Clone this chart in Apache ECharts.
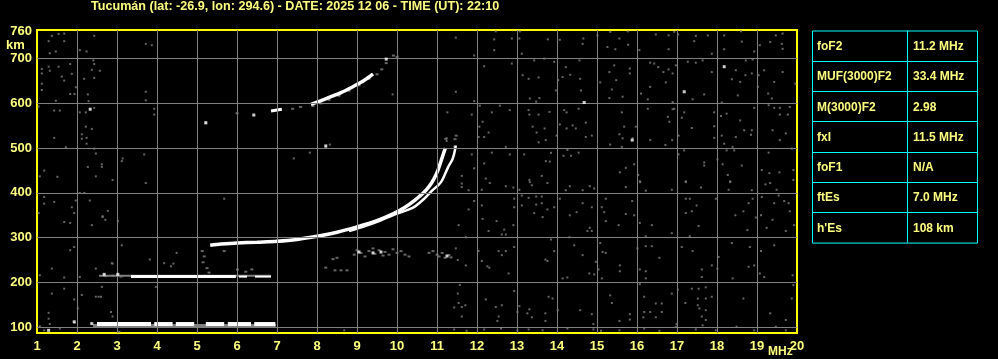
<!DOCTYPE html>
<html><head><meta charset="utf-8">
<script src="https://cdn.jsdelivr.net/npm/echarts@6/dist/echarts.min.js"></script>
<style>html,body{margin:0;padding:0;background:#000;}#c{width:998px;height:359px;}</style>
</head><body><div id="c"></div>
<script>
// ---------- DATA ----------
const titleText = 'Tucumán (lat: -26.9, lon: 294.6) - DATE: 2025 12 06 - TIME (UT): 22:10';
const freqTicks = [1,2,3,4,5,6,7,8,9,10,11,12,13,14,15,16,17,18,19,20];
const heightTicks = [100,200,300,400,500,600,700,760];
const heightGrid = [100,200,300,400,500,600,700];
const freqGrid = [2,3,4,5,6,7,8,9,10,11,12,13,14,15,16,17,18,19];
const tableLabels = ['foF2','MUF(3000)F2','M(3000)F2','fxI','foF1','ftEs',"h'Es"];
const tableValues = ['11.2 MHz','33.4 MHz','2.98','11.5 MHz','N/A','7.0 MHz','108 km'];

// Sporadic E (first hop) white segments [fStart, fEnd] at esLowHeight
const esLowHeight = 107;
const esLowSegments = [[2.5,3.85],[3.93,4.39],[4.47,4.93],[5.22,5.68],[5.77,6.35],[6.43,6.96]];
const esLowGray = [[2.4,104],[6.97,104]];
// Sporadic E (second hop)
const esHighHeight = 213;
const esHighSegments = [[3.35,5.97],[6.05,6.25],[6.45,6.85]];
const esHighGray = [[2.55,215],[6.85,215]];
// F trace, ordinary and extraordinary
const fOTrace = [[5.33,283],[5.6,286],[6.0,288],[6.5,290],[7.0,292],[7.5,296],[8.0,303],[8.5,312],[9.0,324],[9.5,338],[9.9,353],[10.2,368],[10.45,384],[10.65,399],[10.8,414],[10.92,431],[11.02,450],[11.1,471],[11.17,490],[11.21,500]];
const fXTrace = [[8.8,315],[9.2,326],[9.6,339],[10.0,354],[10.4,367],[10.68,387],[10.89,406],[11.1,424],[11.27,456],[11.39,476],[11.44,492],[11.47,506]];
// F second hop
const f2HopA = [[6.85,583],[7.12,587]];
const f2HopB = [[7.85,598],[8.1,606],[8.35,615],[8.6,624],[8.85,635],[9.1,647],[9.3,659],[9.4,666]];
// weak echoes (gray) near traces
const echoGray = [[5.13,270],[5.18,258],[5.15,245],[5.25,232],[5.3,222],[5.2,215],[6.01,229],[6.22,224],[6.37,229],[5.68,270],
 [8.93,262],[9.0,272],[9.1,266],[9.2,258],[9.3,270],[9.4,276],[9.45,264],[9.55,272],[9.65,260],[9.7,268],[9.8,262],[9.9,274],[10.0,266],[10.1,270],[10.2,262],[10.3,258],[8.4,252],[8.5,255],
 [8.22,233],[8.45,227],[8.6,227],[8.75,227],
 [10.8,266],[10.9,270],[11.0,262],[11.05,258],[11.13,266],[11.2,255],[11.3,261],[11.35,256],
 [7.39,588],[7.59,592],[7.9,594],[8.1,600],[8.3,608],[8.55,617],[8.8,628],[9.05,640],[9.3,655],[9.5,665],[9.62,676],[9.73,690],[9.91,707],[10.0,704],[5.22,555],[6.0,578],
 [11.22,521],[11.45,520],[11.48,528],[2.7,214],[2.9,215],[3.1,213]];
const echoWhite = [[2.68,218],[3.02,218],[2.33,587],[9.73,699],[18.18,682],[17.18,626],[14.68,602],[15.88,518],[9.05,268],[9.4,266],[9.6,268],[11.25,259],[2.37,108],[1.29,93],[5.22,557],[6.42,574],[1.93,112],[8.22,505]];
// background noise speckles
const noiseGray = [
[11.47,747],[12.47,761],[12.43,743],[12.87,745],[13.07,761],[13.06,745],[13.77,743],[14.07,742],[14.66,745],[14.64,733],[15.01,752],[15.33,760],[15.56,745],[15.26,726],[15.46,721],[15.78,731],[15.77,761],[16.06,719],[16.47,754],[16.79,752],[16.93,760],[17.03,754],[17.47,751],[17.43,739],[17.77,752],[18.18,752],[18.62,738],[18.6,761],[19.07,730],[19.33,737],[19.47,752],[19.64,756],[19.62,733],[19.64,722],[18.93,716],[17.87,711],[18.18,721],[16.79,721],[11.93,707],[13.12,711],[12.43,719],
[12.87,689],[12.18,683],[13.43,696],[13.68,700],[13.93,693],[14.22,681],[14.56,696],[13.14,663],[13.29,655],[13.54,658],[14.03,652],[14.14,659],[14.33,664],[14.58,655],[15.08,647],[15.31,670],[15.43,685],[15.48,652],[15.82,678],[15.82,667],[16.33,691],[16.43,689],[16.53,681],[16.66,670],[16.79,676],[16.89,667],[16.97,685],[16.72,647],[16.33,637],[17.27,693],[17.47,691],[17.64,696],[17.87,670],[17.68,620],[17.39,609],[18.37,654],[18.47,674],[18.58,648],[18.71,663],[18.87,667],[19.04,663],[19.02,637],[19.18,674],[19.43,648],[19.28,622],[19.37,611],[19.64,670],[19.96,644],[18.12,602],[18.52,618],[18.72,696],[18.89,698],[11.47,626],[11.93,605],[13.56,612],[13.48,604],[13.32,611],[13.97,629],[14.6,629],[15.37,631],[15.31,612],[15.64,615],[16.1,622],[16.27,609],[16.89,603],
[11.26,580],[11.87,575],[12.07,595],[12.57,595],[12.82,585],[12.37,580],[12.14,559],[12.06,548],[12.29,535],[12.04,525],[12.18,525],[12.72,503],[13.31,575],[13.54,575],[13.29,585],[13.81,581],[13.39,548],[13.69,544],[13.49,535],[13.72,518],[13.54,513],[14.18,585],[14.24,580],[14.54,588],[14.07,553],[14.24,544],[14.39,551],[14.47,544],[14.72,557],[14.72,525],[14.87,528],[13.99,528],[15.62,580],[15.68,548],[15.56,531],[15.64,522],[15.89,522],[15.33,508],[15.62,503],[15.97,548],[16.27,588],[16.89,587],[16.93,588],[17.18,580],[17.12,568],[16.77,570],[16.81,559],[16.88,518],[16.33,518],[16.71,507],[17.04,528],[17.37,545],[17.93,580],[17.93,549],[17.93,523],[18.1,572],[18.12,528],[18.24,577],[18.47,525],[18.58,562],[18.68,540],[18.87,540],[18.93,590],[19.29,596],[19.43,590],[19.57,590],[19.82,592],[19.39,540],[19.57,575],[19.77,575],[19.72,533],[19.57,518],[18.85,530],[18.39,503],[18.18,510],
[11.24,522],[11.24,516],[11.43,503],[11.43,486],[11.87,486],[12.18,466],[11.93,455],[11.62,438],[12.22,432],[12.37,490],[12.82,486],[13.18,486],[13.31,429],[13.62,438],[13.72,471],[13.85,490],[13.82,470],[14.16,483],[14.26,496],[14.35,483],[14.54,490],[15.57,446],[15.72,456],[15.93,464],[16.03,440],[16.07,426],[17.22,426],[17.04,486],[17.18,495],[17.68,468],[17.68,461],[18.01,475],[18.14,464],[18.27,440],[18.33,426],[18.24,495],[18.43,495],[18.62,461],[19.12,451],[19.31,444],[19.56,446],[19.91,451],[19.87,499],[19.29,490],[19.91,429],
[11.62,421],[11.62,413],[11.79,406],[12.12,407],[12.32,422],[12.72,415],[12.91,412],[13.06,407],[13.37,417],[13.32,424],[13.76,422],[14.22,406],[14.32,415],[14.64,406],[14.82,415],[14.93,410],[15.72,413],[16.08,424],[16.22,405],[16.87,407],[17.22,424],[17.6,412],[18.33,424],[18.29,407],[18.87,406],[19.21,419],[19.33,422],[19.49,407],
[11.93,382],[11.79,363],[11.54,328],[11.72,301],[12.12,372],[12.14,342],[12.29,315],[12.49,337],[12.62,307],[12.68,318],[12.72,307],[12.93,387],[12.93,368],[12.91,328],[13.12,394],[13.12,372],[13.29,389],[13.48,392],[13.48,374],[13.43,355],[13.62,392],[13.62,377],[13.76,363],[13.64,346],[13.93,368],[14.07,387],[14.32,350],[14.49,357],[14.64,377],[14.87,368],[14.82,322],[14.87,315],[14.76,315],[14.31,301],[15.12,368],[15.18,357],[15.22,387],[15.22,337],[15.54,328],[15.72,353],[15.88,382],[15.93,350],[16.07,333],[16.37,328],[16.22,303],[16.87,310],[17.22,387],[17.32,387],[17.22,355],[17.37,359],[17.49,372],[17.54,326],[17.32,303],[17.97,387],[18.46,350],[18.66,359],[18.79,377],[18.89,387],[18.76,317],[18.97,345],[19.1,350],[19.12,391],[19.24,322],[19.39,340],[19.43,377],[19.54,394],[19.68,382],[19.79,377],[19.82,359],[19.72,315],[19.93,328],
[11.47,276],[11.52,250],[11.72,238],[12.04,270],[12.12,248],[12.26,236],[12.31,233],[12.54,270],[12.62,261],[12.72,270],[12.79,220],[12.93,279],[13.71,251],[13.76,248],[13.93,270],[13.85,296],[14.14,209],[14.26,211],[14.43,283],[14.64,261],[14.81,220],[14.93,218],[14.97,246],[15.04,229],[15.12,209],[15.08,288],[15.14,268],[15.22,266],[15.57,238],[15.57,225],[16.01,276],[16.07,229],[16.22,225],[16.22,209],[16.22,281],[16.37,281],[16.56,255],[17.12,279],[17.39,270],[17.62,229],[17.62,212],[17.87,238],[18.01,231],[18.04,257],[18.37,288],[18.39,209],[18.82,279],[18.79,235],[18.93,238],[19.1,270],[19.07,220],[19.18,212],[19.43,283],[19.89,216],
[11.57,194],[11.52,175],[11.54,154],[11.43,144],[11.62,145],[11.71,149],[11.62,124],[12.22,162],[12.47,145],[12.62,149],[12.54,124],[12.51,114],[12.93,181],[13.06,147],[13.01,134],[13.26,131],[13.37,122],[13.31,140],[13.71,131],[13.79,168],[13.89,164],[13.71,114],[14.02,138],[14.58,138],[14.87,129],[14.91,107],[15.33,171],[15.37,154],[15.56,114],[15.82,129],[15.82,117],[16.07,196],[16.18,168],[16.18,134],[16.16,122],[16.33,134],[16.47,153],[16.62,153],[16.62,134],[16.47,122],[17.02,184],[16.87,175],[16.99,107],[17.21,154],[17.37,186],[17.54,186],[17.72,189],[17.52,164],[17.72,164],[17.52,149],[17.56,142],[17.72,138],[17.62,124],[17.72,116],[17.64,104],[17.87,168],[18.66,164],[19.33,131],[19.72,116],[19.87,164],[19.91,194],
[11.43,95],[11.74,92],[12.18,95],[12.6,97],[13.01,93],[13.29,95],[13.64,93],[14.26,97],[14.91,95],[15.1,92],[15.56,93],[16.18,97],[16.56,92],[16.97,101],[17.47,95],[17.97,93],[18.49,101],[18.93,93],[19.47,101],[19.72,93],
[1.37,751],[1.54,755],[1.68,756],[1.29,739],[1.68,739],[2.43,751],[1.32,712],[1.47,716],[2.07,719],[2.24,716],[1.12,677],[1.12,667],[1.29,682],[1.32,673],[1.54,682],[1.62,660],[1.68,651],[1.83,688],[1.87,666],[2.18,655],[2.41,696],[2.43,688],[2.37,675],[2.57,673],[2.43,657],[1.12,644],[1.12,630],[1.97,636],[1.83,621],[1.94,621],[2.27,620],[2.29,605],[1.04,593],[1.47,606],[1.57,584],[1.43,584],[2.07,580],[2.22,580],[2.43,590],[2.22,548],[2.37,543],[1.43,523],[2.12,531],[2.12,521],[2.24,523],[2.24,510],[1.72,502],[2.43,499],[2.47,488],[2.62,464],[2.62,458],[1.18,450],[1.51,436],[1.07,437],[2.27,458],[2.47,437],[1.18,391],[1.18,376],[1.43,380],[1.87,368],[1.93,355],[1.97,383],[2.32,383],[2.18,400],[2.07,400],[1.04,355],[1.68,335],[1.83,333],[2.37,328],[2.77,360],[2.64,346],[1.83,272],[1.93,279],[1.37,231],[1.07,216],[2.07,212],[1.68,211],[2.47,231],[2.89,242],[1.37,175],[1.68,186],[1.93,162],[2.12,172],[2.02,142],[2.47,168],[2.54,168],[1.29,132],[1.29,119],[1.32,107],[1.07,102],[1.18,93],[1.57,97],[1.94,110],
[3.72,733],[3.87,730],[3.72,626],[3.72,607],[3.93,588],[3.93,575],[3.14,477],[3.68,486],[3.12,471],[7.42,477],[7.82,490],[8.22,503],[8.32,508],[9.89,620],[2.89,429],
[2.64,348],[2.71,340],[3.02,337],[3.12,283],[2.87,243],[2.62,190],[2.6,168],[2.85,134],[2.89,124],[3.72,422],[3.82,251],[4.49,266],[4.18,243],[4.35,236],[4.41,242],[3.97,190],[5.68,387],[8.68,93],[3.06,90]
];

// ---------- CHART ----------
const YEL = '#ffff80';
const FONT = 'Liberation Sans';
const chart = echarts.init(document.getElementById('c'), null, {renderer:'canvas'});

function lineSeries(data, color, width, z, smooth){
  return {type:'line', data:data, showSymbol:false, symbol:'none', silent:true, z:z,
    smooth: smooth || 0, lineStyle:{color:color, width:width}, animation:false};
}
const series = [];
// grid lines
series.push({type:'line', data:[], silent:true, z:1, animation:false,
  markLine:{silent:true, symbol:['none','none'], animation:false, label:{show:false},
    lineStyle:{color:'#808080', width:1, type:'solid'},
    emphasis:{disabled:true},
    data: heightGrid.map(v=>({yAxis:v})).concat(freqGrid.map(v=>({xAxis:v})))}});
// noise
series.push({type:'scatter', data:noiseGray, symbol:'rect', symbolSize:[2,2], silent:true, z:2,
  itemStyle:{color:'#808080'}, animation:false});
series.push({type:'scatter', data:echoGray, symbol:'rect', symbolSize:[3,2], silent:true, z:2,
  itemStyle:{color:'#808080'}, animation:false});
// gray bases of Es
series.push(lineSeries(esLowGray, '#808080', 3, 3));
series.push(lineSeries(esHighGray, '#808080', 2, 3));
// Es white
esLowSegments.forEach(s => series.push(lineSeries([[s[0],esLowHeight],[s[1],esLowHeight]], '#ffffff', 4, 4)));
esHighSegments.forEach((s,i) => series.push(lineSeries([[s[0],esHighHeight],[s[1],esHighHeight]], '#ffffff', i===0?3:2, 4)));
// F traces
series.push(lineSeries(fXTrace, '#ffffff', 2.5, 4, 0.3));
series.push(lineSeries(fOTrace, '#ffffff', 3.5, 4, 0.3));
series.push(lineSeries(f2HopA, '#ffffff', 3, 4));
series.push(lineSeries(f2HopB, '#ffffff', 3.5, 4, 0.3));
series.push({type:'scatter', data:echoWhite, symbol:'rect', symbolSize:[3,3], silent:true, z:5,
  itemStyle:{color:'#ffffff'}, animation:false});

// table graphic
const tX = 812, tY = 30.5, tW = 165, rowH = 30.3, colX = 907;
const tbl = [];
tbl.push({type:'rect', shape:{x:tX+0.5, y:tY+0.5, width:tW, height:rowH*tableLabels.length}, style:{fill:'none', stroke:'#00ffff', lineWidth:1}});
for (let i=1;i<tableLabels.length;i++){
  const y = Math.round(tY + rowH*i)+0.5;
  tbl.push({type:'line', shape:{x1:tX, y1:y, x2:tX+tW, y2:y}, style:{stroke:'#00ffff', lineWidth:1}});
}
tbl.push({type:'line', shape:{x1:colX+0.5, y1:tY, x2:colX+0.5, y2:tY+rowH*tableLabels.length}, style:{stroke:'#00ffff', lineWidth:1}});
tableLabels.forEach((lab,i)=>{
  const cy = tY + rowH*i + rowH/2 + 1;
  tbl.push({type:'text', x:817, y:cy, style:{text:lab, fill:YEL, font:'bold 12px '+FONT, textVerticalAlign:'middle', verticalAlign:'middle'}});
  tbl.push({type:'text', x:913, y:cy, style:{text:tableValues[i], fill:YEL, font:'bold 12px '+FONT, textVerticalAlign:'middle', verticalAlign:'middle'}});
});

const option = {
  backgroundColor:'#000000',
  animation:false,
  title:{text:titleText, left:91, top:0, padding:0, textStyle:{color:YEL, fontSize:12.6, fontWeight:'bold', fontFamily:FONT, lineHeight:14}},
  grid:{left:37, right:201, top:30, bottom:26, show:true, borderColor:'#ffff00', borderWidth:2, backgroundColor:'transparent', containLabel:false},
  xAxis:{type:'value', min:1, max:20, interval:1,
    axisLine:{show:false}, axisTick:{show:false}, splitLine:{show:false},
    axisLabel:{color:YEL, fontSize:13, fontWeight:'bold', fontFamily:FONT, margin:7, customValues:freqTicks}},
  yAxis:{type:'value', min:87, max:764,
    axisLine:{show:false}, axisTick:{show:false}, splitLine:{show:false},
    axisLabel:{color:YEL, fontSize:13, fontWeight:'bold', fontFamily:FONT, margin:5, customValues:heightTicks}},
  graphic:[
    {type:'text', left:6, top:39, style:{text:'km', fill:YEL, font:'bold 13px '+FONT}},
    {type:'text', left:768, top:346, style:{text:'MHz', fill:YEL, font:'bold 12px '+FONT}},
    {type:'group', children:tbl}
  ],
  series:series
};
chart.setOption(option);
</script>
</body></html>
